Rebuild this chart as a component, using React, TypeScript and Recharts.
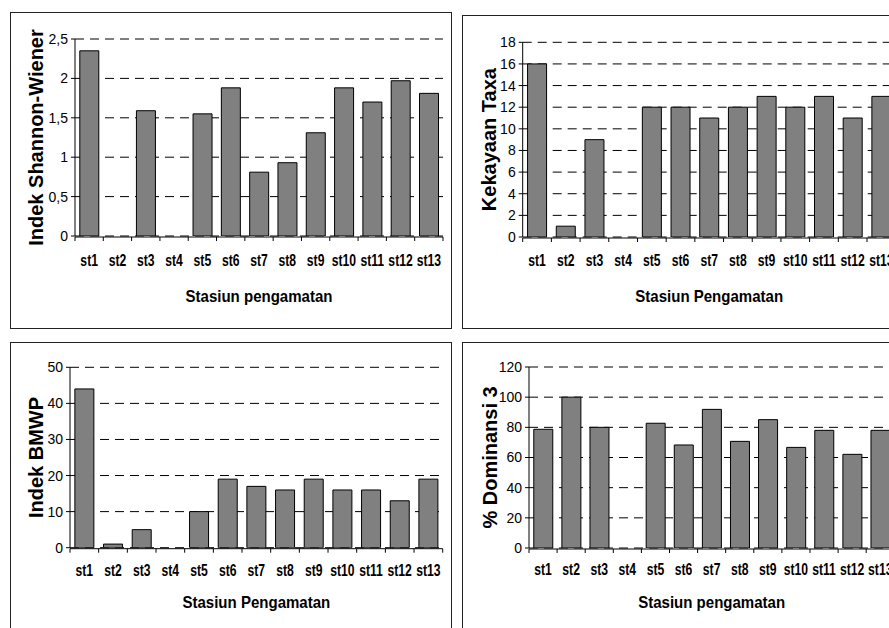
import React from 'react';
import { BarChart, Bar, XAxis, YAxis, CartesianGrid } from 'recharts';

const categories = ['st1', 'st2', 'st3', 'st4', 'st5', 'st6', 'st7', 'st8', 'st9', 'st10', 'st11', 'st12', 'st13'];
const shannon = [2.35, 0, 1.59, 0, 1.55, 1.88, 0.81, 0.93, 1.31, 1.88, 1.7, 1.97, 1.81];
const taxa = [16, 1, 9, 0, 12, 12, 11, 12, 13, 12, 13, 11, 13];
const bmwp = [44, 1, 5, 0, 10, 19, 17, 16, 19, 16, 16, 13, 19];
const dominansi = [78.7, 100, 80, 0, 82.7, 68.3, 91.9, 70.7, 85.1, 66.7, 78, 62.1, 78];

const shannonTicks = [0, 0.5, 1, 1.5, 2, 2.5];
const taxaTicks = [0, 2, 4, 6, 8, 10, 12, 14, 16, 18];
const bmwpTicks = [0, 10, 20, 30, 40, 50];
const dominansiTicks = [0, 20, 40, 60, 80, 100, 120];

const FONT = '"Liberation Sans", Arial, Helvetica, sans-serif';

type Box = { left: number; top: number; width: number; height: number };
type Plot = { left: number; top: number; right: number; bottom: number };

type PanelProps = {
  values: number[];
  ticks: number[];
  fmt?: (v: number) => string;
  yLabel: string;
  xTitle: string;
  box: Box;
  plot: Plot;
  yLabelGap: number;
  tickCap: number;
  titleBase: number;
};

function Panel({ values, ticks, fmt, yLabel, xTitle, box, plot, yLabelGap, tickCap, titleBase }: PanelProps) {
  const innerLeft = box.left + 1;
  const innerTop = box.top + 1;
  const w = box.width - 2;
  const h = box.height - 2;
  const yAxisW = 1;
  const xAxisH = 1;
  const pl = plot.left - innerLeft - yAxisW;
  const pt = plot.top - innerTop;
  const pr = innerLeft + w - plot.right;
  const pb = innerTop + h - plot.bottom - 2 * xAxisH;
  const bottomLocal = plot.bottom - innerTop;
  const leftLocal = plot.left - innerLeft;
  const topLocal = plot.top - innerTop;
  const rightLocal = plot.right - innerLeft;

  // stations with a zero value draw no bar
  const rows = categories.map((c, i) => ({ name: c, pos: i + 0.5, value: values[i] === 0 ? null : values[i] }));
  const edgeTicks = [0, ...categories.map((_, i) => i + 1)];
  const max = ticks[ticks.length - 1];

  const renderTick = (props: any) => {
    const { x, payload } = props;
    const base = bottomLocal + tickCap + 11.4;
    return (
      <g transform={`translate(${x},${base})`}>
        <text
          transform="scale(0.76,1)"
          textAnchor="middle"
          fontFamily={FONT}
          fontSize={16}
          fontWeight="bold"
          fill="#000"
        >
          {payload.value}
        </text>
      </g>
    );
  };

  const renderTitle = () => {
    const cx = (leftLocal + rightLocal) / 2;
    const base = bottomLocal + titleBase;
    return (
      <g transform={`translate(${cx},${base})`}>
        <text
          transform="scale(0.94,1)"
          textAnchor="middle"
          fontFamily={FONT}
          fontSize={16}
          fontWeight="bold"
          fill="#000"
        >
          {xTitle}
        </text>
      </g>
    );
  };

  const renderYLabel = () => {
    const x = leftLocal - yLabelGap;
    const y = (topLocal + bottomLocal) / 2;
    return (
      <text
        x={x}
        y={y}
        transform={`rotate(-90, ${x}, ${y})`}
        textAnchor="middle"
        fontFamily={FONT}
        fontSize={20}
        fontWeight="bold"
        fill="#000"
      >
        {yLabel}
      </text>
    );
  };

  return (
    <div
      style={{
        position: 'absolute',
        left: box.left,
        top: box.top,
        width: box.width,
        height: box.height,
        border: '1px solid #222',
        boxSizing: 'border-box',
        background: '#fff',
      }}
    >
      <BarChart
        width={w}
        height={h}
        data={rows}
        margin={{ top: pt, right: pr, bottom: pb, left: pl }}
        barCategoryGap="17%"
      >
        <CartesianGrid
          xAxisId="cat"
          vertical={false}
          stroke="#000"
          strokeDasharray="9 6"
        />
        <XAxis
          xAxisId="edge"
          type="number"
          dataKey="pos"
          domain={[0, categories.length]}
          ticks={edgeTicks}
          allowDataOverflow
          interval={0}
          height={xAxisH}
          tickSize={4}
          tickFormatter={() => ''}
          axisLine={{ stroke: '#000', strokeWidth: 1 }}
          tickLine={{ stroke: '#000', strokeWidth: 1 }}
        />
        <XAxis
          xAxisId="cat"
          dataKey="name"
          type="category"
          height={xAxisH}
          axisLine={false}
          tickLine={false}
          tickSize={0}
          tickMargin={0}
          interval={0}
          tick={renderTick}
          label={renderTitle}
        />
        <YAxis
          type="number"
          width={yAxisW}
          domain={[0, max]}
          ticks={ticks}
          interval={0}
          allowDataOverflow
          tickSize={4}
          tickMargin={3}
          tickFormatter={fmt}
          axisLine={{ stroke: '#000', strokeWidth: 1 }}
          tickLine={{ stroke: '#000', strokeWidth: 1 }}
          tick={{ fill: '#000', fontSize: 14, fontFamily: FONT }}
          label={renderYLabel}
        />
        <Bar
          dataKey="value"
          xAxisId="cat"
          fill="#808080"
          stroke="#000"
          strokeWidth={1}
          isAnimationActive={false}
        />
      </BarChart>
    </div>
  );
}

const commaFmt = (v: number) => String(v).replace('.', ',');

export default function App() {
  return (
    <div
      style={{
        position: 'fixed',
        left: 0,
        top: 0,
        width: 889,
        height: 628,
        overflow: 'hidden',
        background: '#fff',
      }}
    >
      <Panel
        values={shannon}
        ticks={shannonTicks}
        fmt={commaFmt}
        yLabel="Indek Shannon-Wiener"
        xTitle="Stasiun pengamatan"
        box={{ left: 10, top: 12, width: 442, height: 317 }}
        plot={{ left: 75, top: 39, right: 443, bottom: 236 }}
        yLabelGap={31.7}
        tickCap={19}
        titleBase={65.7}
      />
      <Panel
        values={taxa}
        ticks={taxaTicks}
        yLabel="Kekayaan Taxa"
        xTitle="Stasiun Pengamatan"
        box={{ left: 462, top: 15, width: 450, height: 314 }}
        plot={{ left: 522.7, top: 42.3, right: 895.7, bottom: 237 }}
        yLabelGap={27}
        tickCap={18}
        titleBase={65}
      />
      <Panel
        values={bmwp}
        ticks={bmwpTicks}
        yLabel="Indek BMWP"
        xTitle="Stasiun Pengamatan"
        box={{ left: 10, top: 342, width: 442, height: 300 }}
        plot={{ left: 70, top: 367.3, right: 442.7, bottom: 547.7 }}
        yLabelGap={27.3}
        tickCap={16.6}
        titleBase={60}
      />
      <Panel
        values={dominansi}
        ticks={dominansiTicks}
        yLabel="% Dominansi 3"
        xTitle="Stasiun pengamatan"
        box={{ left: 462, top: 342, width: 450, height: 300 }}
        plot={{ left: 529, top: 367, right: 894.3, bottom: 548 }}
        yLabelGap={32.3}
        tickCap={16}
        titleBase={59.7}
      />
    </div>
  );
}
